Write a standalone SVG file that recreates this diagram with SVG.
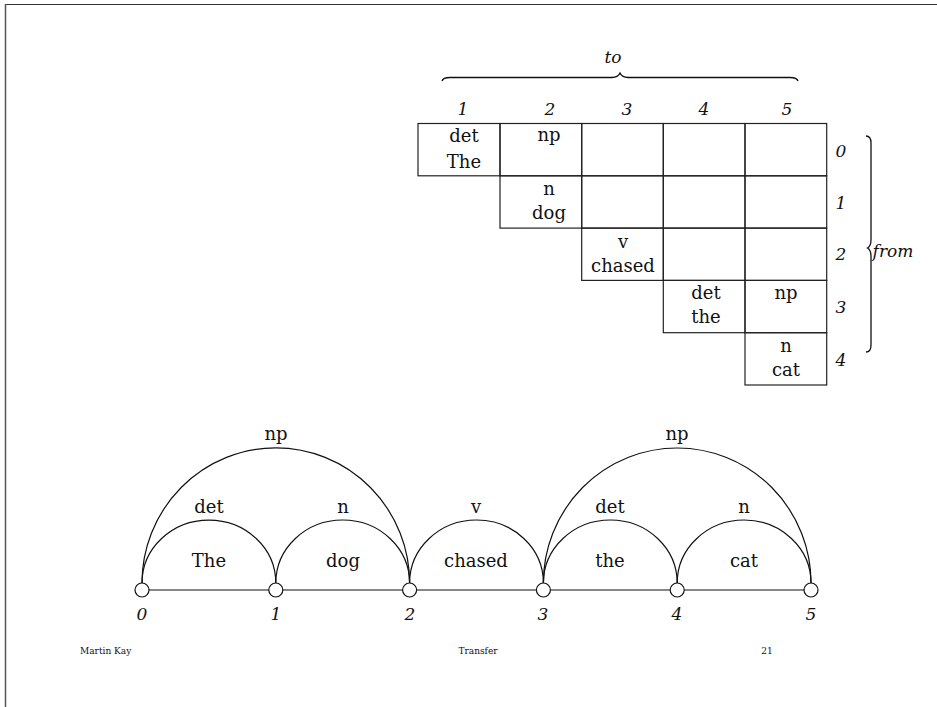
<svg xmlns="http://www.w3.org/2000/svg" width="937" height="707" viewBox="0 0 937 707">
<style>
text{font-family:'DejaVu Serif',serif}
.t{font-size:18px;fill:#111;text-anchor:middle}
.i{font-size:17px;font-style:italic;fill:#111;text-anchor:middle}
.f{font-size:9px;fill:#111}
.cell{fill:none;stroke:#222;stroke-width:1.2}
.arc{fill:none;stroke:#111;stroke-width:1.2}
.node{fill:#fff;stroke:#111;stroke-width:1.2}
.br{fill:none;stroke:#111;stroke-width:1.3}
</style>
<rect width="937" height="707" fill="#fff"/>
<g id="frame">
<line x1="5" y1="4.5" x2="937" y2="4.5" stroke="#333" stroke-width="1.2"/>
<line x1="5.5" y1="4" x2="5.5" y2="707" stroke="#555" stroke-width="1.5"/>
</g>
<g id="chart">
<path class="br" d="M442,81 Q443,77.5 450,77.5 L612,77.5 Q618,77.5 620,73 Q622,77.5 628,77.5 L790,77.5 Q797,77.5 798,81"/>
<text class="i" x="613" y="63">to</text>
<text class="i" x="463" y="115">1</text>
<text class="i" x="550" y="115">2</text>
<text class="i" x="627" y="115">3</text>
<text class="i" x="704" y="115">4</text>
<text class="i" x="787" y="115">5</text>
<g id="row0">
<rect class="cell" x="418" y="123.5" width="82" height="52.3"/>
<rect class="cell" x="500" y="123.5" width="81.7" height="52.3"/>
<rect class="cell" x="581.7" y="123.5" width="81.6" height="52.3"/>
<rect class="cell" x="663.3" y="123.5" width="81.7" height="52.3"/>
<rect class="cell" x="745" y="123.5" width="81.7" height="52.3"/>
<text class="t" x="464" y="142">det</text>
<text class="t" x="464" y="168">The</text>
<text class="t" x="549" y="141">np</text>
</g>
<g id="row1">
<rect class="cell" x="500" y="175.8" width="81.7" height="52.3"/>
<rect class="cell" x="581.7" y="175.8" width="81.6" height="52.3"/>
<rect class="cell" x="663.3" y="175.8" width="81.7" height="52.3"/>
<rect class="cell" x="745" y="175.8" width="81.7" height="52.3"/>
<text class="t" x="549" y="195">n</text>
<text class="t" x="549" y="219">dog</text>
</g>
<g id="row2">
<rect class="cell" x="581.7" y="228.1" width="81.6" height="52.3"/>
<rect class="cell" x="663.3" y="228.1" width="81.7" height="52.3"/>
<rect class="cell" x="745" y="228.1" width="81.7" height="52.3"/>
<text class="t" x="623" y="248">v</text>
<text class="t" x="623" y="272">chased</text>
</g>
<g id="row3">
<rect class="cell" x="663.3" y="280.4" width="81.7" height="52.3"/>
<rect class="cell" x="745" y="280.4" width="81.7" height="52.3"/>
<text class="t" x="706" y="299">det</text>
<text class="t" x="706" y="323">the</text>
<text class="t" x="786" y="299">np</text>
</g>
<g id="row4">
<rect class="cell" x="745" y="332.7" width="81.7" height="52.3"/>
<text class="t" x="786" y="352">n</text>
<text class="t" x="786" y="376">cat</text>
</g>
<text class="i" x="841" y="157">0</text>
<text class="i" x="841" y="209">1</text>
<text class="i" x="841" y="260">2</text>
<text class="i" x="841" y="313">3</text>
<text class="i" x="841" y="366">4</text>
<path class="br" d="M866,136 Q871,136 871,143 L871,240 Q871,246 867.5,248 Q871,250 871,256 L871,345 Q871,352 866,352"/>
<text class="i" x="893" y="257">from</text>
</g>
<g id="connectors">
<line x1="142" y1="590" x2="811" y2="590" stroke="#111" stroke-width="1.2"/>
<path class="arc" d="M142,583 A133.7,135 0 0 1 409.6,583"/>
<path class="arc" d="M543.4,583 A133.8,135 0 0 1 811,583"/>
<path class="arc" d="M142,583 A66.9,63 0 0 1 275.8,583"/>
<path class="arc" d="M275.8,583 A66.9,63 0 0 1 409.6,583"/>
<path class="arc" d="M409.6,583 A66.9,63 0 0 1 543.4,583"/>
<path class="arc" d="M543.4,583 A66.9,63 0 0 1 677.2,583"/>
<path class="arc" d="M677.2,583 A66.9,63 0 0 1 811,583"/>
</g>
<g id="arc-labels">
<text class="t" x="276" y="440">np</text>
<text class="t" x="677" y="440">np</text>
<text class="t" x="209" y="513">det</text>
<text class="t" x="343" y="513">n</text>
<text class="t" x="476" y="513">v</text>
<text class="t" x="610" y="513">det</text>
<text class="t" x="744" y="513">n</text>
<text class="t" x="209" y="567">The</text>
<text class="t" x="343" y="567">dog</text>
<text class="t" x="476" y="567">chased</text>
<text class="t" x="610" y="567">the</text>
<text class="t" x="744" y="567">cat</text>
</g>
<g id="n0"><circle class="node" cx="142" cy="590" r="7"/><text class="i" x="142" y="620">0</text></g>
<g id="n1"><circle class="node" cx="275.8" cy="590" r="7"/><text class="i" x="276" y="620">1</text></g>
<g id="n2"><circle class="node" cx="409.6" cy="590" r="7"/><text class="i" x="410" y="620">2</text></g>
<g id="n3"><circle class="node" cx="543.4" cy="590" r="7"/><text class="i" x="543" y="620">3</text></g>
<g id="n4"><circle class="node" cx="677.2" cy="590" r="7"/><text class="i" x="677" y="620">4</text></g>
<g id="n5"><circle class="node" cx="811" cy="590" r="7"/><text class="i" x="811" y="620">5</text></g>
<g id="footer">
<text class="f" x="80" y="654">Martin Kay</text>
<text class="f" x="478" y="654" text-anchor="middle">Transfer</text>
<text class="f" x="767" y="654" text-anchor="middle">21</text>
</g>
</svg>
